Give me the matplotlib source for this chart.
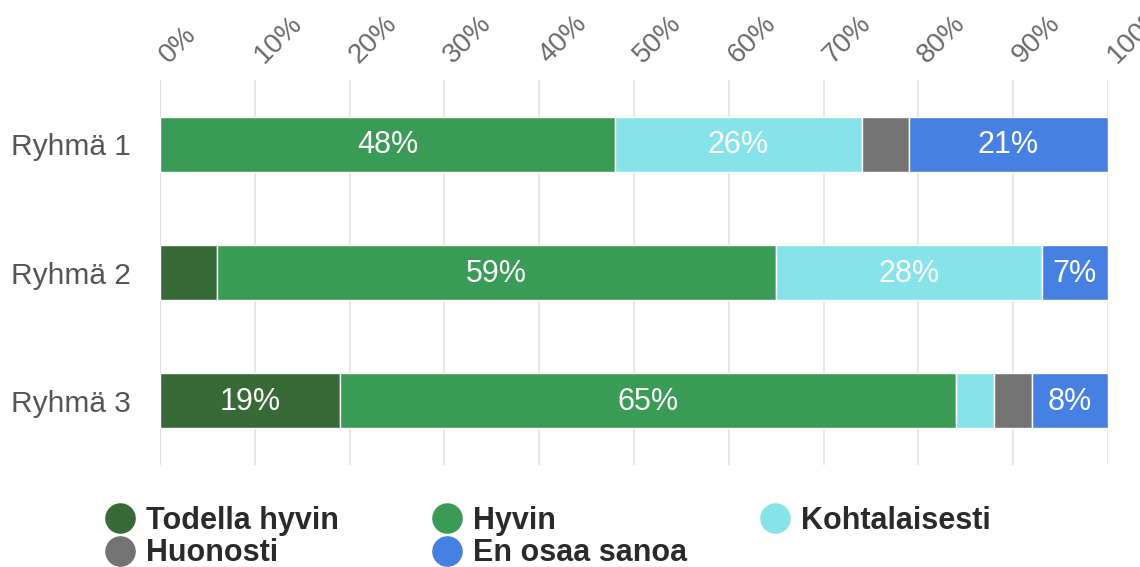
import numpy as np
import matplotlib
matplotlib.use("Agg")
from matplotlib import pyplot as plt
from matplotlib.lines import Line2D
from matplotlib.transforms import ScaledTranslation

plt.rcParams['font.family'] = ['Liberation Sans', 'DejaVu Sans']

groups = ['Ryhmä 1', 'Ryhmä 2', 'Ryhmä 3']
series = ['Todella hyvin', 'Hyvin', 'Kohtalaisesti', 'Huonosti', 'En osaa sanoa']
todella_hyvin = [0, 6, 19]
hyvin = [48, 59, 65]
kohtalaisesti = [26, 28, 4]
huonosti = [5, 0, 4]
en_osaa = [21, 7, 8]
colors = ['#386a37', '#3a9b56', '#86e3ea', '#737373', '#4680e2']

values = [todella_hyvin, hyvin, kohtalaisesti, huonosti, en_osaa]

fig = plt.figure(figsize=(11.4, 5.67), dpi=100)
ax = fig.add_axes([0.1404, 0.1799, 0.8315, 0.679])

y = np.arange(len(groups))
left = np.zeros(len(groups))
for name, vals, col in zip(series, values, colors):
    vals = np.array(vals, dtype=float)
    ax.barh(y, vals, left=left, height=0.43, color=col, edgecolor='white',
            linewidth=1, label=name, zorder=3)
    # only label segments wide enough
    for yi, v, l in zip(y, vals, left):
        if v >= 7:
            ax.text(l + v / 2, yi + 0.01, f'{int(v)}%', ha='center', va='center',
                    color='white', fontsize=22, zorder=4)
    left += vals

ax.set_xlim(0, 100)
ax.set_ylim(2.5, -0.5)
ax.set_xticks(np.arange(0, 101, 10))
ax.set_xticklabels([f'{t}%' for t in range(0, 101, 10)])
ax.xaxis.tick_top()
ax.tick_params(axis='x', length=0, pad=13, labelsize=20, labelcolor='#6a6a6a')
shift = ScaledTranslation(13 / 100, -6 / 100, fig.dpi_scale_trans)
for lab in ax.get_xticklabels():
    lab.set_rotation(45)
    lab.set_ha('left')
    lab.set_rotation_mode('anchor')
    lab.set_transform(lab.get_transform() + shift)
ax.set_yticks(y)
ax.set_yticklabels(groups)
ax.tick_params(axis='y', length=0, pad=21, labelsize=21.5, labelcolor='#555555')

ax.grid(axis='x', color='#e3e3e3', linewidth=1.2, zorder=0)
for s in ax.spines.values():
    s.set_visible(False)
ax.axvline(0, color='#c9cdea', linewidth=1.2, zorder=1)

# legend: three fixed columns
handles = [Line2D([], [], marker='o', linestyle='none', markersize=21,
                  markerfacecolor=c, markeredgecolor=c) for c in colors]
cols = [[0, 3], [1, 4], [2]]
xs = [0.0921, 0.379, 0.6667]
for xpos, idx in zip(xs, cols):
    fig.legend([handles[i] for i in idx], [series[i] for i in idx],
               loc='upper left', bbox_to_anchor=(xpos, 0.108), frameon=False,
               prop={'size': 22, 'weight': 'bold'}, labelcolor='#2a2a2a',
               handlelength=1.0, handletextpad=0.35, labelspacing=0.08,
               borderpad=0, borderaxespad=0)

fig.savefig('out.png', dpi=100)
